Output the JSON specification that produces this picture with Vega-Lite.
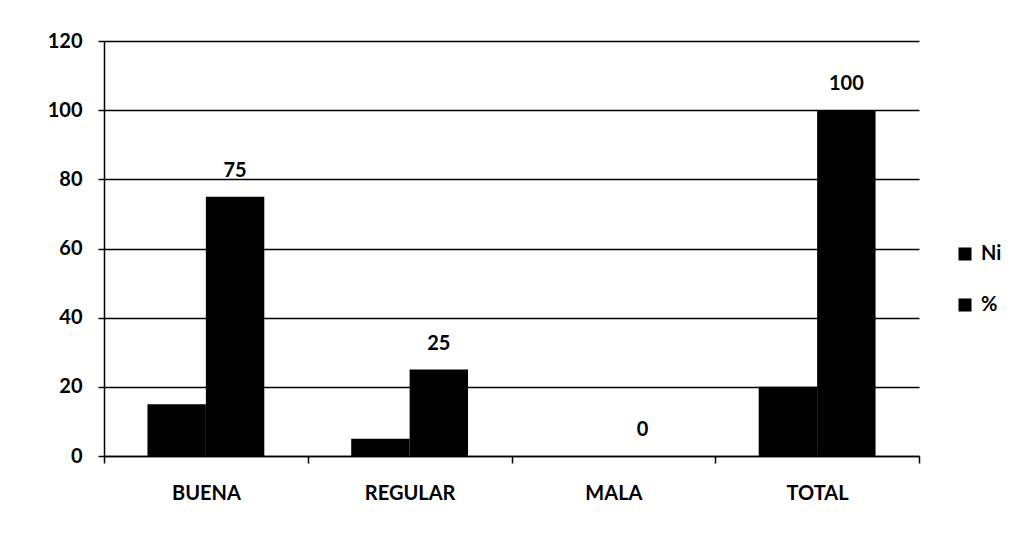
{
  "$schema": "https://vega.github.io/schema/vega-lite/v6.json",
  "width": 815,
  "height": 415,
  "autosize": "none",
  "padding": {"left": 104, "top": 41, "right": 104, "bottom": 81},
  "background": "white",
  "config": {
    "font": "Lato",
    "view": {"stroke": null},
    "axis": {"labelFont": "Lato", "labelFontWeight": "bold", "labelColor": "black", "labelFontSize": 20}
  },
  "data": {
    "values": [
      {"cat": "BUENA", "serie": "Ni", "valor": 15},
      {"cat": "BUENA", "serie": "%", "valor": 75},
      {"cat": "REGULAR", "serie": "Ni", "valor": 5},
      {"cat": "REGULAR", "serie": "%", "valor": 25},
      {"cat": "MALA", "serie": "Ni", "valor": 0},
      {"cat": "MALA", "serie": "%", "valor": 0},
      {"cat": "TOTAL", "serie": "Ni", "valor": 20},
      {"cat": "TOTAL", "serie": "%", "valor": 100}
    ]
  },
  "encoding": {
    "x": {
      "field": "cat", "type": "nominal", "sort": ["BUENA", "REGULAR", "MALA", "TOTAL"],
      "scale": {"paddingInner": 0, "paddingOuter": 0},
      "axis": {"title": null, "labelAngle": 0, "labelPadding": 20, "domainColor": "black", "domainWidth": 1.5, "tickColor": "black", "tickBand": "extent", "tickSize": 7, "tickWidth": 1.5}
    },
    "xOffset": {"field": "serie", "type": "nominal", "sort": ["Ni", "%"], "scale": {"paddingInner": 0, "paddingOuter": 0.744}},
    "y": {
      "field": "valor", "type": "quantitative",
      "scale": {"domain": [0, 120]},
      "axis": {"title": null, "values": [0, 20, 40, 60, 80, 100, 120], "gridColor": "black", "gridWidth": 1.5, "gridOpacity": 1, "domainColor": "black", "domainWidth": 1.5, "tickColor": "black", "tickSize": 6, "tickWidth": 1.5, "labelPadding": 16}
    }
  },
  "layer": [
    {
      "mark": {"type": "bar"},
      "encoding": {
        "color": {
          "field": "serie", "type": "nominal", "sort": ["Ni", "%"],
          "scale": {"range": ["black", "black"]},
          "legend": {"title": null, "orient": "none", "legendX": 851, "legendY": 203, "symbolType": "square", "symbolSize": 170, "labelFontSize": 20, "labelFontWeight": "bold", "labelFont": "Lato", "rowPadding": 31, "labelColor": "black", "labelOffset": 6}
        }
      }
    },
    {
      "transform": [{"filter": "datum.serie === '%'"}],
      "mark": {"type": "text", "dy": -26, "fontSize": 20, "fontWeight": "bold", "color": "black", "font": "Lato"},
      "encoding": {"text": {"field": "valor", "type": "quantitative"}}
    }
  ]
}
